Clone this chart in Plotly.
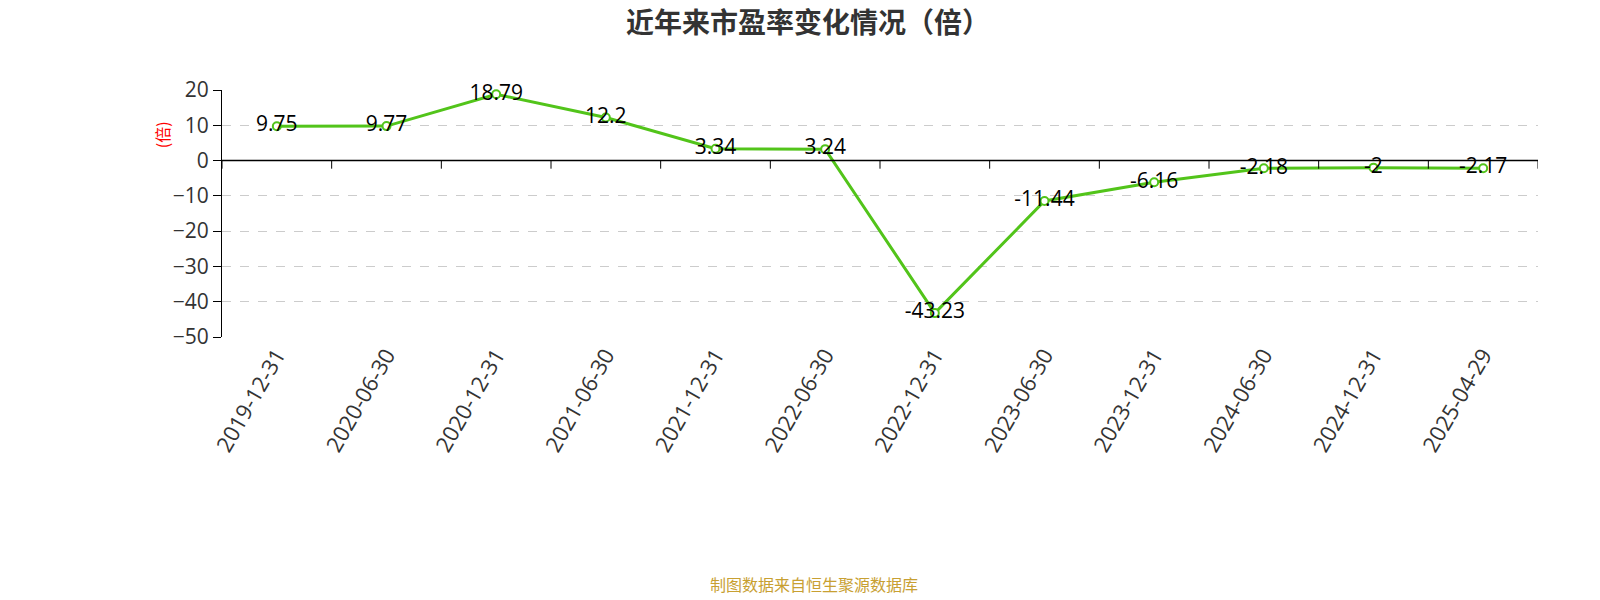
import plotly.graph_objects as go

dates = ["2019-12-31","2020-06-30","2020-12-31","2021-06-30","2021-12-31","2022-06-30",
         "2022-12-31","2023-06-30","2023-12-31","2024-06-30","2024-12-31","2025-04-29"]
pe = [9.75, 9.77, 18.79, 12.2, 3.34, 3.24, -43.23, -11.44, -6.16, -2.18, -2, -2.17]
labels = ["9.75","9.77","18.79","12.2","3.34","3.24","-43.23","-11.44","-6.16","-2.18","-2","-2.17"]
yticks = [20, 10, 0, -10, -20, -30, -40, -50]

cjk = "Noto Sans CJK SC"
lat = "Open Sans"
fig = go.Figure()
fig.add_trace(go.Scatter(
    x=dates, y=pe, mode="lines+markers+text", text=labels, textposition="middle center",
    textfont=dict(size=21, color="#000", family=lat),
    line=dict(color="#52c41a", width=3),
    marker=dict(size=8, color="white", line=dict(color="#52c41a", width=2)),
    cliponaxis=False, showlegend=False))

shapes = [dict(type="line", xref="x", yref="y", x0=i - 0.5, x1=i - 0.5, y0=0, y1=-2.3,
               line=dict(color="#000", width=1)) for i in range(len(dates) + 1)]
shapes.append(dict(type="line", xref="paper", yref="y", x0=0, x1=1, y0=0, y1=0,
                   line=dict(color="#000", width=1.5)))

fig.update_layout(
    width=1600, height=600, plot_bgcolor="white", paper_bgcolor="white",
    margin=dict(l=214, r=70, t=82, b=271),
    font=dict(family=lat, color="#333"),
    title=dict(text="<b>近年来市盈率变化情况（倍）</b>", x=0.5, y=0.975, xanchor="center",
               yanchor="middle", font=dict(size=28, color="#333", family=cjk)),
    shapes=shapes,
    xaxis=dict(type="category", tickangle=-60, tickfont=dict(size=22, color="#333", family=lat),
               showgrid=False, showline=False, ticks="", range=[-0.5, 11.5]),
    yaxis=dict(range=[-50, 20], tickvals=yticks, tickfont=dict(size=21, color="#333", family=lat),
               showgrid=True, gridcolor="#ccc", griddash="dash", zeroline=False,
               showline=True, linecolor="#000", ticks="outside", ticklen=8, tickcolor="#000"),
    annotations=[
        dict(text="(倍)", xref="paper", yref="paper", x=-0.045, y=0.82, textangle=-90,
             xanchor="center", yanchor="middle", showarrow=False,
             font=dict(size=16, color="red", family=cjk)),
        dict(text="制图数据来自恒生聚源数据库", xref="paper", yref="paper",
             x=0.45, y=-1.0, xanchor="center", yanchor="middle", showarrow=False,
             font=dict(size=16, color="#c8a032", family=cjk))],
)
fig.write_html("out.html")
